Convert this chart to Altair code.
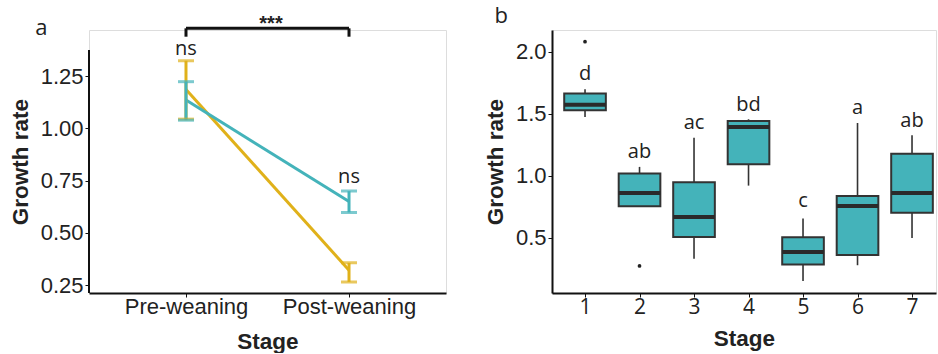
import altair as alt
import pandas as pd

# ---------------- Panel a data ----------------
groups = ["Group A", "Group A", "Group B", "Group B"]
stages_a = ["Pre-weaning", "Post-weaning", "Pre-weaning", "Post-weaning"]
means_a = [1.186, 0.322, 1.135, 0.650]
lows_a = [1.044, 0.266, 1.039, 0.598]
highs_a = [1.323, 0.357, 1.223, 0.700]

ns_stages = ["Pre-weaning", "Post-weaning"]
ns_labels = ["ns", "ns"]
ns_y = [1.35, 0.739]

bracket_y = 1.478
bracket_leg_y = 1.438
stars_y = 1.50

# ---------------- Panel b data ----------------
stage_b = [1, 2, 3, 4, 5, 6, 7]
q1 = [1.530, 0.755, 0.508, 1.094, 0.285, 0.363, 0.704]
median = [1.575, 0.863, 0.669, 1.395, 0.387, 0.758, 0.863]
q3 = [1.664, 1.019, 0.949, 1.444, 0.505, 0.839, 1.180]
whisk_lo = [1.476, 0.755, 0.333, 0.922, 0.153, 0.280, 0.500]
whisk_hi = [1.700, 1.073, 1.309, 1.457, 0.656, 1.427, 1.328]
letters = ["d", "ab", "ac", "bd", "c", "a", "ab"]
letter_y = [1.774, 1.143, 1.379, 1.524, 0.748, 1.500, 1.398]
outlier_stage = [1, 2]
outlier_val = [2.083, 0.274]

TEAL = "#44B3BA"
GOLD = "#E0B11A"
DARK = "#222222"
TICKFONT = "Liberation Sans"
TEXTFONT = "Open Sans"
TITLE_SIZE = 22.5
TICK_SIZE = 22

df_a = pd.DataFrame({"group": groups, "stage": stages_a, "mean": means_a,
                     "lo": lows_a, "hi": highs_a})
df_ns = pd.DataFrame({"stage": ns_stages, "label": ns_labels, "y": ns_y})
df_br = pd.DataFrame({"stage": ns_stages, "y": [bracket_y, bracket_y],
                      "leg": [bracket_leg_y, bracket_leg_y]})
df_stars = pd.DataFrame({"stage": ["Pre-weaning"], "t": ["***"], "y": [stars_y]})

order_a = ["Pre-weaning", "Post-weaning"]
xa = alt.X("stage:N", sort=order_a,
           scale=alt.Scale(type="point", padding=0.595),
           axis=alt.Axis(title="Stage", labelAngle=0, labelFontSize=TICK_SIZE,
                         labelFont=TICKFONT, labelColor=DARK,
                         titleFont=TICKFONT, titleFontSize=TITLE_SIZE, titleFontWeight="bold",
                         titleColor=DARK, titlePadding=13, tickSize=4,
                         domainColor="#111111", domainWidth=2, tickColor="#111111",
                         labelPadding=-1, grid=False))
ya_scale = alt.Scale(domain=[0.213, 1.470], nice=False, zero=False)
ya = alt.Y("mean:Q", scale=ya_scale,
           axis=alt.Axis(title="Growth rate", values=[0.25, 0.5, 0.75, 1.0, 1.25],
                         format=".2f", labelFontSize=TICK_SIZE, labelFont=TICKFONT,
                         labelColor=DARK, titleFont=TICKFONT, titleFontSize=TITLE_SIZE,
                         titleFontWeight="bold", titleColor=DARK, titlePadding=8,
                         domain=False, tickSize=4, tickColor="#111111",
                         labelPadding=2, grid=False))

color_a = alt.Color("group:N", scale=alt.Scale(domain=["Group A", "Group B"],
                                                range=[GOLD, TEAL]), legend=None)

base_a = alt.Chart(df_a)
lines_a = base_a.mark_line(strokeWidth=3).encode(x=xa, y=ya, color=color_a,
                                                   detail="group:N", order=alt.Order("group:N"))
err_a = base_a.mark_rule(strokeWidth=3).encode(x=alt.X("stage:N", sort=order_a),
                                                y=alt.Y("lo:Q"), y2="hi:Q", color=color_a)
cap_lo = base_a.mark_tick(size=16, thickness=3).encode(x=alt.X("stage:N", sort=order_a),
                                                         y=alt.Y("lo:Q"), color=color_a)
cap_hi = base_a.mark_tick(size=16, thickness=3).encode(x=alt.X("stage:N", sort=order_a),
                                                         y=alt.Y("hi:Q"), color=color_a)

yaxis_line = alt.Chart(pd.DataFrame({"a": [0]})).mark_rule(color="#111111", strokeWidth=2).encode(
    x=alt.value(0), y=alt.datum(0.213), y2=alt.datum(1.374))

ns_text = alt.Chart(df_ns).mark_text(font=TEXTFONT, fontSize=20, color=DARK,
                                     baseline="alphabetic").encode(
    x=alt.X("stage:N", sort=order_a), y=alt.Y("y:Q"), text="label:N")

br_h = alt.Chart(df_br).mark_line(color="#111111", strokeWidth=3).encode(
    x=alt.X("stage:N", sort=order_a), y=alt.Y("y:Q"))
br_legs = alt.Chart(df_br).mark_rule(color="#111111", strokeWidth=3).encode(
    x=alt.X("stage:N", sort=order_a), y=alt.Y("leg:Q"), y2="y:Q")
stars = alt.Chart(df_stars).mark_text(
    font=TICKFONT, fontSize=20, fontWeight="bold", color=DARK, baseline="middle",
    dx=85).encode(x=alt.X("stage:N", sort=order_a), y=alt.Y("y:Q"), text="t:N")

panel_a = alt.layer(yaxis_line, lines_a, err_a, cap_lo, cap_hi, ns_text, br_legs, br_h, stars).properties(
    width=357, height=263,
    title=alt.TitleParams("a", anchor="start", font=TEXTFONT, fontSize=22,
                          fontWeight="normal", color=DARK, dx=26, offset=-26))

# ---------------- Panel b ----------------
df_b = pd.DataFrame({"stage": stage_b, "q1": q1, "median": median, "q3": q3,
                     "lo": whisk_lo, "hi": whisk_hi, "letter": letters, "ly": letter_y})
df_out = pd.DataFrame({"stage": outlier_stage, "v": outlier_val})

xb_scale = alt.Scale(domain=[0.394, 7.44], nice=False, zero=False)
yb_scale = alt.Scale(domain=[0.056, 2.177], nice=False, zero=False)
xb_axis = alt.Axis(title="Stage", values=stage_b, format="d", labelFontSize=21,
                   labelFont=TEXTFONT, labelColor=DARK, titleFont=TICKFONT,
                   titleFontSize=TITLE_SIZE, titleFontWeight="bold", titleColor=DARK,
                   titlePadding=10, tickSize=4, domainColor="#111111", domainWidth=2,
                   tickColor="#111111", labelPadding=-1, grid=False)
yb_axis = alt.Axis(title="Growth rate", values=[0.5, 1.0, 1.5, 2.0], format=".1f",
                   labelFontSize=TICK_SIZE, labelFont=TICKFONT, labelColor=DARK,
                   titleFont=TICKFONT, titleFontSize=TITLE_SIZE, titleFontWeight="bold",
                   titleColor=DARK, titlePadding=8, domainColor="#111111",
                   domainWidth=2, tickSize=4, tickColor="#111111", labelPadding=2,
                   grid=False)

base_b = alt.Chart(df_b).transform_calculate(xl="datum.stage - 0.382",
                                               xr="datum.stage + 0.382")
wh_lo = base_b.mark_rule(color="#333333", strokeWidth=1.6).encode(
    x=alt.X("stage:Q", scale=xb_scale, axis=xb_axis),
    y=alt.Y("lo:Q", scale=yb_scale, axis=yb_axis), y2="q1:Q")
wh_hi = base_b.mark_rule(color="#333333", strokeWidth=1.6).encode(
    x=alt.X("stage:Q"), y=alt.Y("q3:Q"), y2="hi:Q")
boxes = base_b.mark_rect(fill=TEAL, stroke="#333333", strokeWidth=2).encode(
    x=alt.X("xl:Q"), x2="xr:Q", y=alt.Y("q1:Q"), y2="q3:Q")
meds = base_b.mark_rule(color="#2a2a2a", strokeWidth=4).encode(
    x=alt.X("xl:Q"), x2="xr:Q", y=alt.Y("median:Q"))
outs = alt.Chart(df_out).mark_circle(size=14, color="#222222", opacity=1).encode(
    x=alt.X("stage:Q"), y=alt.Y("v:Q"))
lets = base_b.mark_text(font=TEXTFONT, fontSize=20, color=DARK, baseline="alphabetic").encode(
    x=alt.X("stage:Q"), y=alt.Y("ly:Q"), text="letter:N")

panel_b = alt.layer(wh_lo, wh_hi, boxes, meds, outs, lets).properties(
    width=384, height=263,
    title=alt.TitleParams("b", anchor="start", font=TEXTFONT, fontSize=22,
                          fontWeight="normal", color=DARK, dx=10, offset=2))

chart = alt.hconcat(panel_a, panel_b, spacing=36).properties(
    padding={"left": 8, "top": 4, "right": 0, "bottom": 0}
).configure_view(stroke=None).configure(background="white")

chart.save("out.html", embed_options={"renderer": "svg", "actions": False})
